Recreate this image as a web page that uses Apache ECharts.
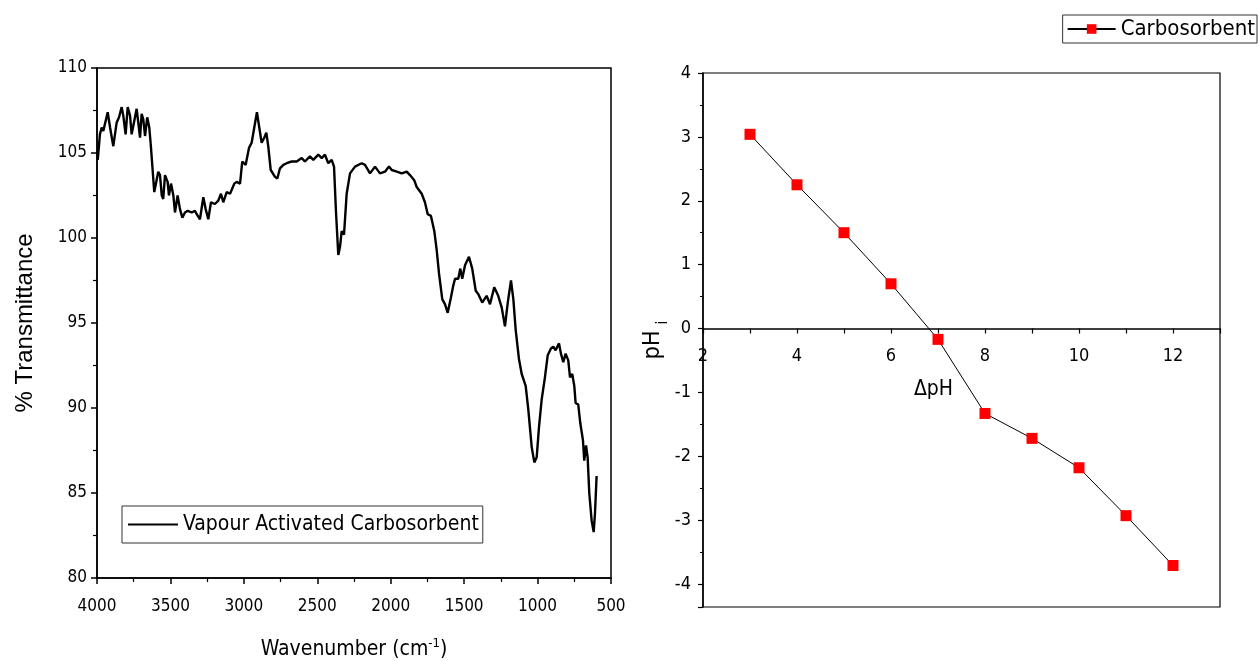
<!DOCTYPE html>
<html><head><meta charset="utf-8">
<script src="https://cdn.jsdelivr.net/npm/echarts@6/dist/echarts.min.js"></script>
<style>html,body{margin:0;padding:0;background:#fff}#c{width:1259px;height:661px}</style>
</head><body><div id="c"></div>
<script>
// FTIR spectrum: wavenumber (cm-1) and % transmittance
const wavenumber = [3995,3980,3968,3957,3946,3927,3911,3889,3866,3850,3832,3821,3805,3791,3775,3764,3753,3730,3719,3707,3696,3685,3673,3658,3644,3634,3623,3610,3598,3583,3571,3559,3549,3537,3519,3510,3496,3480,3469,3451,3435,3419,3401,3382,3355,3333,3321,3299,3276,3260,3242,3224,3197,3174,3156,3140,3117,3094,3065,3049,3026,3011,2988,2965,2947,2929,2911,2895,2879,2861,2847,2834,2817,2788,2772,2754,2731,2708,2674,2640,2606,2584,2550,2527,2493,2470,2448,2425,2402,2386,2373,2357,2345,2334,2318,2300,2277,2243,2198,2175,2141,2107,2073,2039,2012,1993,1959,1925,1891,1869,1840,1823,1789,1767,1748,1726,1703,1687,1671,1649,1630,1612,1590,1574,1562,1540,1526,1513,1494,1467,1445,1421,1404,1377,1347,1324,1295,1268,1244,1222,1203,1181,1165,1149,1127,1108,1081,1063,1040,1022,1006,990,972,950,931,909,893,877,854,841,825,809,791,779,764,750,741,723,709,691,682,670,659,648,632,618,609,598];
const transmittance = [104.6,106.1,106.5,106.3,106.4,107.4,106.5,105.4,106.8,107.1,107.7,107.2,106.1,107.7,107.2,106.1,106.0,107.6,106.8,105.9,107.3,107.0,106.0,107.1,106.5,105.5,105.4,102.7,102.6,103.9,103.7,102.5,102.3,103.7,103.3,102.5,103.2,102.5,101.5,102.5,101.7,101.2,101.5,101.6,101.5,101.6,101.4,101.1,102.4,101.7,101.1,102.1,102.0,102.2,102.6,102.1,102.7,102.6,103.2,103.3,103.2,104.5,104.3,105.3,105.6,106.5,107.4,106.5,105.6,105.9,106.2,105.4,104.0,103.6,103.5,104.1,104.3,104.4,104.5,104.5,104.7,104.5,104.8,104.6,104.9,104.7,104.9,104.4,104.6,104.2,101.6,99.0,99.5,100.4,100.2,102.6,103.8,104.2,104.4,104.3,103.8,104.2,103.8,103.9,104.2,104.0,103.9,103.8,103.9,103.7,103.4,103.0,102.6,102.1,101.4,101.3,100.4,99.3,97.9,96.4,96.1,95.6,96.5,97.2,97.6,97.6,98.2,97.6,98.4,98.9,98.2,96.9,96.7,96.2,96.6,96.1,97.1,96.6,95.9,94.8,96.2,97.5,96.4,94.6,92.9,92.0,91.3,89.9,87.7,86.8,87.1,88.9,90.5,91.8,93.1,93.5,93.6,93.4,93.8,93.2,92.7,93.2,92.8,91.8,92.0,91.3,90.3,90.2,89.1,88.1,86.9,87.8,87.1,85.0,83.4,82.7,83.8,86.0];
// pH drift data
const deltaPH = [3,4,5,6,7,8,9,10,11,12];
const pHi = [3.04,2.25,1.50,0.70,-0.17,-1.33,-1.72,-2.18,-2.93,-3.71];
const leftXTicks = [500, 4000, 500];   // min, max, step
const leftYTicks = [80, 110, 5];
const rightXTicks = [2, 13, 1];
const rightYTicks = [-4.36, 4];

const NARROW = "'Liberation Sans Narrow','Arial Narrow','DejaVu Sans Condensed','Liberation Sans',sans-serif";
const SANS = "'Liberation Sans',Arial,sans-serif";
const axisLine = {show: true, lineStyle: {color: '#000', width: 1.5}};

// right grid geometry; x axis sits on pH = 0
const RG = {left: 703, top: 73, width: 517, height: 534};
const zeroOffset = -RG.height * (0 - rightYTicks[0]) / (rightYTicks[1] - rightYTicks[0]);

const chart = echarts.init(document.getElementById('c'));
chart.setOption({
  backgroundColor: '#fff',
  animation: false,
  grid: [
    {left: 97, top: 68, width: 514, height: 510, show: true, borderColor: '#000', borderWidth: 1.5,
     containLabel: false, outerBoundsMode: 'none'},
    {left: RG.left, top: RG.top, width: RG.width, height: RG.height, show: true, borderColor: '#000', borderWidth: 1.2,
     containLabel: false, outerBoundsMode: 'none'}
  ],
  legend: [
    {data: [{name: 'Vapour Activated Carbosorbent', icon: 'rect'}], left: 122, top: 506, orient: 'horizontal',
     borderColor: '#333', borderWidth: 1, padding: [8, 4, 8, 6], itemWidth: 50, itemHeight: 2, itemGap: 6,
     textStyle: {fontFamily: NARROW, fontSize: 21, color: '#000'}},
    {data: ['Carbosorbent'], right: 2, top: 15, borderColor: '#333', borderWidth: 1,
     padding: [3, 2, 3, 4], itemWidth: 48, itemHeight: 12, itemGap: 6,
     textStyle: {fontFamily: NARROW, fontSize: 22, color: '#000'}}
  ],
  xAxis: [
    {gridIndex: 0, type: 'value', inverse: true, min: leftXTicks[0], max: leftXTicks[1], interval: leftXTicks[2],
     axisLine: axisLine, axisTick: {show: true, inside: false, length: 6, lineStyle: {color: '#000', width: 1.5}},
     minorTick: {show: true, splitNumber: 2, length: 4, lineStyle: {color: '#000', width: 1.2}},
     splitLine: {show: false},
     axisLabel: {margin: 20, color: '#000', fontSize: 17, fontFamily: NARROW, formatter: v => String(v)},
     name: '{a|Wavenumber (cm}{s|-1}{a|)}', nameLocation: 'middle', nameGap: 59,
     nameTextStyle: {rich: {a: {fontSize: 21, fontFamily: NARROW, color: '#000'}, s: {fontSize: 13, fontFamily: NARROW, color: '#000', verticalAlign: 'top', padding: [0, 0, 12, 0]}}}},
    {gridIndex: 1, type: 'value', min: rightXTicks[0], max: rightXTicks[1], interval: rightXTicks[2],
     position: 'bottom', offset: zeroOffset,
     axisLine: {show: true, onZero: false, lineStyle: {color: '#000', width: 1.5}},
     axisTick: {show: true, length: 5, lineStyle: {color: '#000', width: 1.2}},
     splitLine: {show: false},
     axisLabel: {margin: 19, color: '#000', fontSize: 18, fontFamily: NARROW,
       formatter: v => (v % 2 === 0 && v < 13) ? String(v) : ''},
     name: 'ΔpH', nameLocation: 'middle', nameGap: 51,
     nameTextStyle: {fontSize: 21, fontFamily: NARROW, color: '#000', padding: [0, 56, 0, 0]}}
  ],
  yAxis: [
    {gridIndex: 0, type: 'value', min: leftYTicks[0], max: leftYTicks[1], interval: leftYTicks[2],
     axisLine: axisLine, axisTick: {show: true, length: 6, lineStyle: {color: '#000', width: 1.5}},
     minorTick: {show: true, splitNumber: 2, length: 4, lineStyle: {color: '#000', width: 1.2}},
     splitLine: {show: false},
     axisLabel: {margin: 10, color: '#000', fontSize: 17, fontFamily: NARROW},
     name: '% Transmittance', nameLocation: 'middle', nameGap: 60,
     nameTextStyle: {fontSize: 24, fontFamily: SANS, color: '#000'}},
    {gridIndex: 1, type: 'value', min: rightYTicks[0], max: rightYTicks[1], splitNumber: 8,
     axisLine: {show: true, lineStyle: {color: '#000', width: 1.5}},
     axisTick: {show: true, length: 5, lineStyle: {color: '#000', width: 1.2}},
     minorTick: {show: true, splitNumber: 2, length: 3, lineStyle: {color: '#000', width: 1}},
     splitLine: {show: false},
     axisLabel: {margin: 12, color: '#000', fontSize: 18, fontFamily: NARROW, showMinLabel: false},
     name: '{a|pH}{b|i}', nameLocation: 'middle', nameGap: 24, nameRotate: 90,
     nameTextStyle: {rich: {a: {fontSize: 23, fontFamily: NARROW, color: '#000', verticalAlign: 'top'},
                            b: {fontSize: 15, fontFamily: NARROW, color: '#000', padding: [14, 0, 0, 6], verticalAlign: 'bottom'}}}}
  ],
  series: [
    {name: 'Vapour Activated Carbosorbent', type: 'line', xAxisIndex: 0, yAxisIndex: 0,
     data: wavenumber.map((w, i) => [w, transmittance[i]]),
     showSymbol: false, symbol: 'none', lineStyle: {color: '#000', width: 2.4}, itemStyle: {color: '#000'}},
    {name: 'Carbosorbent', type: 'line', xAxisIndex: 1, yAxisIndex: 1,
     data: deltaPH.map((x, i) => [x, pHi[i]]),
     symbol: 'rect', symbolSize: 11, itemStyle: {color: '#ff0000'},
     lineStyle: {color: '#000', width: 1}}
  ]
});
</script></body></html>
